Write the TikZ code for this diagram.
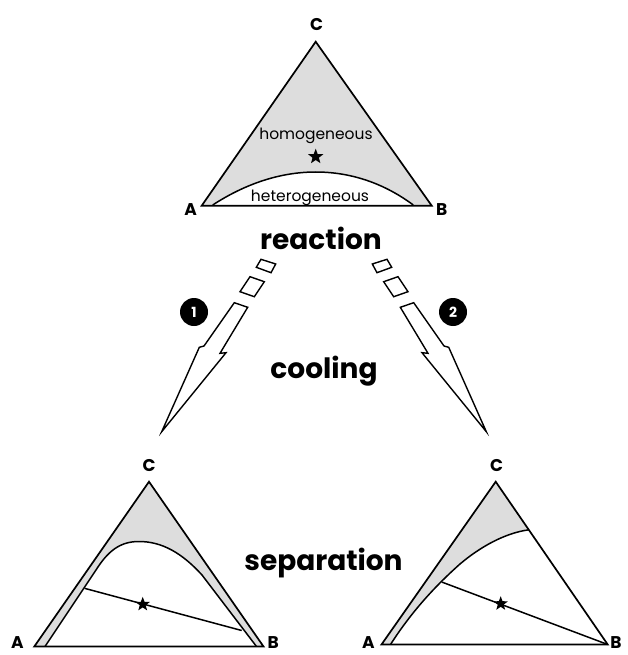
\documentclass[tikz,border=0pt]{standalone}
\usepackage{fontspec}
\setmainfont{Poppins}
\usetikzlibrary{shapes.geometric}
\definecolor{phase}{RGB}{221,221,221}
\tikzset{
  tri/.style={draw=black, line width=1.7pt, line join=miter},
  bound/.style={draw=black, line width=1.5pt},
  vlabel/.style={font=\bfseries\fontsize{17}{17}\selectfont, inner sep=0pt, anchor=base},
  bigword/.style={font=\bfseries\fontsize{28}{28}\selectfont, inner sep=0pt, anchor=base},
  phaseword/.style={font=\fontsize{15.5}{15.5}\selectfont, inner sep=0pt, anchor=base},
  starmark/.style={star, star points=5, star point ratio=2.4, fill=black, inner sep=0pt, minimum size=16pt},
  numdot/.style={circle, fill=black, text=white, font=\bfseries\fontsize{14}{14}\selectfont, minimum size=28pt, inner sep=0pt},
  arrowpart/.style={draw=black, fill=white, line width=1.4pt, line join=miter},
}
\begin{document}
\begin{tikzpicture}[x=1pt,y=-1pt]
\useasboundingbox (0,0) rectangle (627,655);
% ---------- top triangle ----------
\coordinate (tA) at (201.7,205.7);
\coordinate (tB) at (431.7,205.7);
\coordinate (tC) at (315.7,41.7);
\fill[phase] (tA) -- (tB) -- (tC) -- cycle;
\fill[white] (212.7,205.7) .. controls (245,184) and (280,172) .. (315.7,172)
  .. controls (352,172) and (385,184) .. (413.3,205.7) -- cycle;
\draw[bound] (212.7,205) .. controls (245,184) and (280,172) .. (315.7,172)
  .. controls (352,172) and (385,184) .. (413.3,205);
\draw[tri] (tA) -- (tB) -- (tC) -- cycle;
\node[vlabel] (tCl) at (316.7,30.7) {C};
\node[vlabel] (tAl) at (190.7,215) {A};
\node[vlabel] (tBl) at (441.7,215) {B};
\node[phaseword] (homo) at (316,139.3) {homogeneous};
\node[phaseword] (hetero) at (310,201) {heterogeneous};
\node[starmark] (tstar) at (315.7,156.7) {};
% ---------- words ----------
\node[bigword] (reaction) at (321,249.3) {reaction};
\node[bigword] (cooling) at (324,378.3) {cooling};
\node[bigword] (separation) at (323.5,570.7) {separation};
% ---------- left arrow ----------
\draw[arrowpart] (261,259.3) -- (275.7,264) -- (271,272.7) -- (256.3,267.3) -- cycle;
\draw[arrowpart] (250,276.7) -- (264.3,281.7) -- (254.3,296.7) -- (240,291.7) -- cycle;
\draw[arrowpart] (234.3,302.7) -- (204,346) -- (199.3,347.3) -- (161.7,431.7)
  -- (226,352.7) -- (220,353.3) -- (247.7,307.3) -- cycle;
\node[numdot] (n1) at (194,312) {1};
% ---------- right arrow ----------
\draw[arrowpart] (387,259.3) -- (372.3,264) -- (377,272.7) -- (391.7,267.3) -- cycle;
\draw[arrowpart] (398,276.7) -- (383.7,281.7) -- (393.7,296.7) -- (408,291.7) -- cycle;
\draw[arrowpart] (413.7,302.7) -- (444,346) -- (448.7,347.3) -- (486.3,431.7)
  -- (422,352.7) -- (428,353.3) -- (400.3,307.3) -- cycle;
\node[numdot] (n2) at (453,312) {2};
% ---------- bottom left triangle ----------
\coordinate (lA) at (34.3,646.5);
\coordinate (lB) at (263.5,646.5);
\coordinate (lC) at (149,481.7);
\fill[phase] (lA) -- (lB) -- (lC) -- cycle;
\fill[white] (45,646.5) -- (96,570) .. controls (108,551) and (120,541.5) .. (139,541.5)
  .. controls (162,541.5) and (182,553) .. (202,575) -- (256.5,646.5) -- cycle;
\draw[bound] (45,646.5) -- (96,570) .. controls (108,551) and (120,541.5) .. (139,541.5)
  .. controls (162,541.5) and (182,553) .. (202,575) -- (256.5,646.5);
\draw[tri] (lA) -- (lB) -- (lC) -- cycle;
\coordinate (lt1) at (84.5,588.3);
\coordinate (lt2) at (241.7,630.5);
\draw[bound] (lt1) -- (lt2);
\node[starmark, minimum size=15pt] (lstar) at (142.7,604.3) {};
\node[vlabel] (lCl) at (149,471.7) {C};
\node[vlabel] (lAl) at (17.5,648.5) {A};
\node[vlabel] (lBl) at (273.3,648.5) {B};
% ---------- bottom right triangle ----------
\coordinate (rA) at (381.5,644.5);
\coordinate (rB) at (607.7,644.5);
\coordinate (rC) at (495.7,481.7);
\coordinate (rP) at (528.8,529.8);
\coordinate (rQ) at (390.5,644.5);
\fill[phase] (rA) -- (rC) -- (rP) .. controls (505,533) and (480,547) .. (460,564)
  .. controls (433,588) and (410,614) .. (rQ) -- cycle;
\draw[bound] (rP) .. controls (505,533) and (480,547) .. (460,564)
  .. controls (433,588) and (410,614) .. (rQ);
\draw[tri] (rA) -- (rB) -- (rC) -- cycle;
\coordinate (rt1) at (441.7,582);
\draw[bound] (rt1) -- (rB);
\node[starmark, minimum size=15pt] (rstar) at (500.7,603.7) {};
\node[vlabel] (rCl) at (496.7,471.7) {C};
\node[vlabel] (rAl) at (368.3,648.5) {A};
\node[vlabel] (rBl) at (616,648.5) {B};
\end{tikzpicture}
\end{document}
